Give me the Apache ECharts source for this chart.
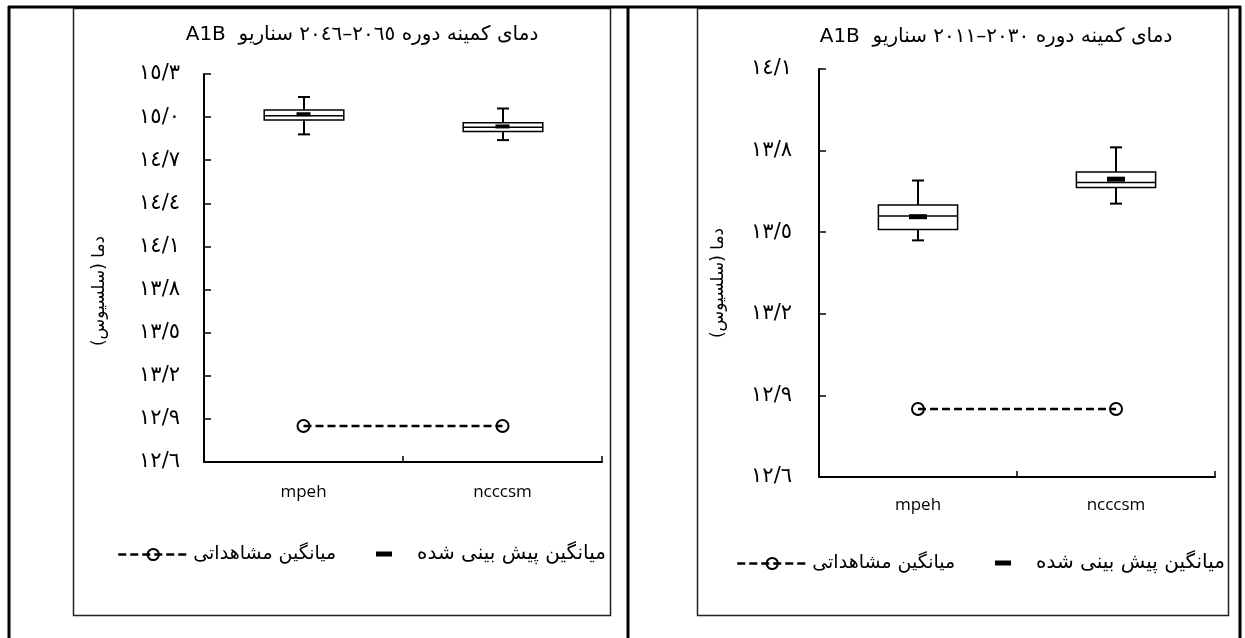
<!DOCTYPE html>
<html>
<head>
<meta charset="utf-8">
<script src="https://cdn.jsdelivr.net/npm/echarts@6/dist/echarts.min.js"></script>
<style>
html, body { margin: 0; padding: 0; background: #fff; }
#chart { width: 1245px; height: 638px; }
</style>
</head>
<body>
<div id="chart"></div>
<script>
var categories = ['mpeh', 'ncccsm']

// box rows: [whisker low, q1, median, q3, whisker high]
var boxesLate = [[14.88, 14.98, 15.01, 15.05, 15.14], [14.84, 14.90, 14.93, 14.96, 15.06]]
var meansLate = [15.02, 14.935]
var observedLate = [12.85, 12.85]

var boxesEarly = [[13.47, 13.51, 13.56, 13.60, 13.69], [13.605, 13.664, 13.683, 13.721, 13.812]]
var meansEarly = [13.557, 13.695]
var observedEarly = [12.85, 12.85]

var titleLate = 'دمای کمینه دوره ٢٠٦٥–٢٠٤٦ سناریو  A1B'
var titleEarly = 'دمای کمینه دوره ٢٠٣٠–٢٠١١ سناریو  A1B'
var yName = 'دما (سلسیوس)'
var nameObserved = 'میانگین مشاهداتی'
var namePredicted = 'میانگین پیش بینی شده'

var arFont = "'DejaVu Sans', sans-serif"
var digits = '٠١٢٣٤٥٦٧٨٩'

function rtl (s) {
  return '\u202B' + s + '\u202C'
}

function arNum (v) {
  return v.toFixed(1).replace('.', '/').replace(/[0-9]/g, function (d) { return digits[+d] })
}

function renderBox (params, api) {
  var x = api.value(0)
  var lo = api.coord([x, api.value(1)])
  var q1 = api.coord([x, api.value(2)])
  var med = api.coord([x, api.value(3)])
  var q3 = api.coord([x, api.value(4)])
  var hi = api.coord([x, api.value(5)])
  var bw = api.size([1, 0])[0] * 0.4
  var cx = Math.round(lo[0])
  var cap = 6
  var thick = {stroke: '#000', lineWidth: 2}
  var thin = {stroke: '#000', lineWidth: 1.5}
  return {
    type: 'group',
    children: [
      {type: 'line', shape: {x1: cx, y1: hi[1], x2: cx, y2: lo[1]}, style: thick},
      {type: 'line', shape: {x1: cx - cap, y1: hi[1], x2: cx + cap, y2: hi[1]}, style: thick},
      {type: 'line', shape: {x1: cx - cap, y1: lo[1], x2: cx + cap, y2: lo[1]}, style: thick},
      {type: 'rect', shape: {x: cx - bw / 2, y: q3[1], width: bw, height: q1[1] - q3[1]}, style: {fill: '#fff', stroke: '#000', lineWidth: 1.5}},
      {type: 'line', shape: {x1: cx - bw / 2, y1: med[1], x2: cx + bw / 2, y2: med[1]}, style: thin}
    ]
  }
}

function boxData (rows) {
  return rows.map(function (r, i) { return [i].concat(r) })
}

function xAxisFor (idx, margin) {
  return {
    type: 'category',
    gridIndex: idx,
    data: categories,
    boundaryGap: true,
    axisLine: {lineStyle: {color: '#000', width: 2}},
    axisTick: {show: true, inside: true, length: 6, lineStyle: {color: '#000', width: 1.5}},
    axisLabel: {color: '#000', fontSize: 17, fontFamily: "'Open Sans', sans-serif", margin: margin},
    splitLine: {show: false}
  }
}

// namePad pushes the rotated axis name down from the axis middle
function yAxisFor (idx, min, max, margin, gap, namePad) {
  return {
    type: 'value',
    gridIndex: idx,
    min: min,
    max: max,
    interval: 0.3,
    name: rtl(yName),
    nameLocation: 'middle',
    nameGap: gap,
    nameTextStyle: {color: '#000', fontSize: 17, fontFamily: arFont, padding: [0, namePad, 0, 0]},
    axisLine: {show: true, lineStyle: {color: '#000', width: 2}},
    axisTick: {show: true, inside: true, length: 7, lineStyle: {color: '#000', width: 1.5}},
    axisLabel: {color: '#000', fontSize: 21, fontFamily: arFont, margin: margin, formatter: arNum},
    splitLine: {show: false}
  }
}

function seriesFor (idx, boxes, means, observed, meanSize) {
  return [
    {
      name: 'box',
      type: 'custom',
      xAxisIndex: idx,
      yAxisIndex: idx,
      renderItem: renderBox,
      encode: {x: 0, y: [1, 2, 3, 4, 5]},
      data: boxData(boxes),
      z: 2
    },
    {
      name: namePredicted,
      type: 'scatter',
      xAxisIndex: idx,
      yAxisIndex: idx,
      symbol: 'rect',
      symbolSize: meanSize,
      itemStyle: {color: '#000', opacity: 1},
      data: means,
      z: 5
    },
    {
      name: nameObserved,
      type: 'line',
      xAxisIndex: idx,
      yAxisIndex: idx,
      symbol: 'circle',
      symbolSize: 12,
      lineStyle: {color: '#000', width: 2.5, type: [8, 4]},
      itemStyle: {color: 'rgba(255,255,255,0)', borderColor: '#000', borderWidth: 2},
      data: observed,
      z: 4
    }
  ]
}

function legendObserved (left, top) {
  return {
    data: [nameObserved],
    left: left,
    top: top,
    padding: 0,
    itemWidth: 70,
    itemHeight: 14,
    selectedMode: false,
    lineStyle: {width: 2.5},
    textStyle: {color: '#000', fontSize: 19, fontFamily: arFont}
  }
}

function legendPredicted (left, top) {
  return {
    data: [{name: namePredicted, icon: 'rect', itemStyle: {color: '#000', opacity: 1}}],
    left: left,
    top: top,
    padding: 0,
    itemWidth: 16,
    itemHeight: 5,
    selectedMode: false,
    textStyle: {color: '#000', fontSize: 20, fontFamily: arFont, padding: [0, 0, 0, 20]}
  }
}

var chart = echarts.init(document.getElementById('chart'), null, {renderer: 'canvas'})

var option = {
  backgroundColor: '#fff',
  animation: false,
  title: [
    {text: rtl(titleLate), left: 357, top: 20, textAlign: 'center', textStyle: {color: '#000', fontSize: 20, fontWeight: 'normal', fontFamily: arFont}},
    {text: rtl(titleEarly), left: 991, top: 22, textAlign: 'center', textStyle: {color: '#000', fontSize: 20, fontWeight: 'normal', fontFamily: arFont}}
  ],
  grid: [
    {left: 204, top: 74, width: 398, height: 388},
    {left: 819, top: 69, width: 396, height: 408}
  ],
  legend: [
    legendObserved(117, 545),
    legendPredicted(376, 544),
    legendObserved(736, 554),
    legendPredicted(995, 553)
  ],
  xAxis: [xAxisFor(0, 22), xAxisFor(1, 20)],
  yAxis: [yAxisFor(0, 12.6, 15.3, 24, 96, 46), yAxisFor(1, 12.6, 14.1, 27, 92, 20)],
  series: seriesFor(0, boxesLate, meansLate, observedLate, [14, 4])
    .concat(seriesFor(1, boxesEarly, meansEarly, observedEarly, [18, 5])),
  graphic: [
    // table lines
    {type: 'line', shape: {x1: 8, y1: 7, x2: 1241, y2: 7}, style: {stroke: '#000', lineWidth: 3}},
    {type: 'line', shape: {x1: 9, y1: 6, x2: 9, y2: 638}, style: {stroke: '#000', lineWidth: 3}},
    {type: 'line', shape: {x1: 628, y1: 6, x2: 628, y2: 638}, style: {stroke: '#000', lineWidth: 3}},
    {type: 'line', shape: {x1: 1240, y1: 6, x2: 1240, y2: 638}, style: {stroke: '#000', lineWidth: 3}},
    // chart frames
    {type: 'rect', shape: {x: 73.5, y: 8.5, width: 537, height: 607}, style: {fill: null, stroke: '#222', lineWidth: 1.5}, z: -1},
    {type: 'rect', shape: {x: 697.5, y: 8.5, width: 531, height: 607}, style: {fill: null, stroke: '#222', lineWidth: 1.5}, z: -1}
  ]
}

chart.setOption(option)
</script>
</body>
</html>
